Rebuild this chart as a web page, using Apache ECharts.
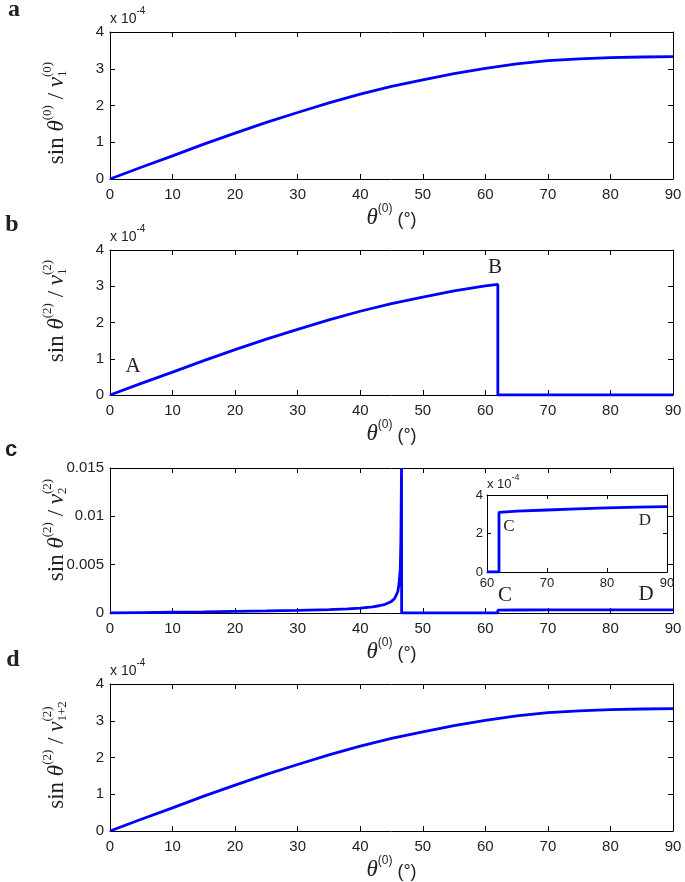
<!DOCTYPE html>
<html>
<head>
<meta charset="utf-8">
<script src="https://cdn.jsdelivr.net/npm/echarts@6/dist/echarts.min.js"></script>
<style>
html,body{margin:0;padding:0;background:#fff;}
#chart{width:685px;height:882px;}
</style>
</head>
<body>
<div id="chart"></div>
<script>
// ---------- data ----------
// panel a: sin θ(0) / v1(0), in units of 1e-4
const aAngles = [0,5,10,15,20,25,30,35,40,45,50,55,60,65,70,75,80,85,90];
const aValues = [0,0.32,0.63,0.95,1.25,1.54,1.81,2.07,2.31,2.52,2.70,2.87,3.01,3.13,3.22,3.27,3.30,3.32,3.33];
// panel b: sin θ(2) / v1(2), in units of 1e-4
const bAngles = [0,5,10,15,20,25,30,35,40,45,50,55,60,62,62,90];
const bValues = [0,0.32,0.63,0.95,1.25,1.54,1.81,2.07,2.31,2.52,2.70,2.87,3.01,3.05,0,0];
// panel c: sin θ(2) / v2(2)
const cAngles = [0,5,10,15,20,25,30,35,38,40,42,43,44,45,45.5,46,46.2,46.4,46.5,46.6,46.62,62,62,65,70,75,80,85,90];
const cValues = [0,0.00004,0.00008,0.00012,0.00017,0.00021,0.00027,0.00035,0.00043,0.0005,0.00064,0.00075,0.0009,0.0012,0.0015,0.0022,0.003,0.0045,0.0075,0.015,0,0,0.000305,0.00031,0.00032,0.000325,0.00033,0.000332,0.000333];
// inset of panel c, in units of 1e-4
const insetAngles = [60,62,62,65,70,75,80,85,90];
const insetValues = [0,0,3.1,3.16,3.22,3.28,3.33,3.37,3.4];
// panel d: sin θ(2) / v1+2(2), in units of 1e-4
const dAngles = [0,5,10,15,20,25,30,35,40,45,50,55,60,65,70,75,80,85,90];
const dValues = [0,0.32,0.63,0.95,1.25,1.54,1.81,2.07,2.31,2.52,2.70,2.87,3.01,3.13,3.22,3.27,3.30,3.32,3.33];
// tick settings
const xTicksMain = {min:0, max:90, interval:10};
const xTicksInset = {min:60, max:90, interval:10};
const yTicksE4 = {min:0, max:4, interval:1};
const yTicksC = {min:0, max:0.015, interval:0.005};
const yTicksInset = {min:0, max:4, interval:2};

// ---------- styling ----------
const SANS = '"Liberation Sans", Arial, sans-serif';
const SERIF = '"Liberation Serif", "Times New Roman", serif';
const TXT = '#222';
const BLUE = '#0000ff';

const grids = [
  {left:110, top:32,  width:563, height:147},
  {left:110, top:250, width:563, height:145},
  {left:110, top:468, width:563, height:145},
  {left:110, top:684, width:563, height:148},
  {left:487, top:495, width:180, height:77}
];

const expName = (small) => ({
  name: '{a|x 10}{b|-4}',
  nameLocation: 'end',
  nameGap: small ? 4 : 6,
  nameTextStyle: {
    align: 'left',
    rich: {
      a: {fontSize: small ? 13 : 14, fontFamily: SANS, color: TXT, verticalAlign: 'bottom', lineHeight: small ? 18 : 20},
      b: {fontSize: small ? 9 : 10, fontFamily: SANS, color: TXT, verticalAlign: 'top', lineHeight: 8}
    }
  }
});

const xName = {
  name: '{t|θ}{s|(0)}{p| (°)}',
  nameLocation: 'middle',
  nameGap: 24,
  nameTextStyle: {
    rich: {
      t: {fontSize: 23, fontFamily: SERIF, fontStyle: 'italic', color: TXT, verticalAlign: 'bottom', lineHeight: 26},
      s: {fontSize: 12, fontFamily: SANS, color: TXT, verticalAlign: 'top', lineHeight: 12},
      p: {fontSize: 18, fontFamily: SANS, color: TXT, verticalAlign: 'bottom', lineHeight: 24}
    }
  }
};

const xAxis = [], yAxis = [];
function addAxes(gi, xt, yt, opt) {
  const small = !!opt.small;
  const fs = small ? 13 : 15;
  const tl = small ? 4 : 5;
  const common = {
    gridIndex: gi, type: 'value',
    axisLine: {show: true, onZero: false, lineStyle: {color: '#000', width: 1}},
    axisTick: {show: true, inside: true, length: tl, lineStyle: {color: '#000', width: 1}},
    splitLine: {show: false}
  };
  xAxis.push(Object.assign({}, common, xt, {position: 'bottom',
    axisLabel: {color: TXT, fontSize: fs, fontFamily: SANS, margin: small ? 5 : 8}},
    opt.xName ? xName : {}));
  xAxis.push(Object.assign({}, common, xt, {position: 'top', axisLabel: {show: false}}));
  yAxis.push(Object.assign({}, common, yt, {position: 'left',
    axisLabel: {color: TXT, fontSize: fs, fontFamily: SANS, margin: small ? 4 : 6}},
    opt.exp ? expName(small) : {}));
  yAxis.push(Object.assign({}, common, yt, {position: 'right', axisLabel: {show: false}}));
}
addAxes(0, xTicksMain, yTicksE4, {xName: true, exp: true});
addAxes(1, xTicksMain, yTicksE4, {xName: true, exp: true});
addAxes(2, xTicksMain, yTicksC, {xName: true, exp: false});
addAxes(3, xTicksMain, yTicksE4, {xName: true, exp: true});
addAxes(4, xTicksInset, yTicksInset, {exp: true, small: true});

const pairs = (xs, ys) => xs.map((x, i) => [x, ys[i]]);
const mkLine = (gi, xs, ys, w) => ({
  type: 'line', xAxisIndex: 2 * gi, yAxisIndex: 2 * gi,
  data: pairs(xs, ys), showSymbol: false, symbol: 'none', clip: true,
  lineStyle: {color: BLUE, width: w}, animation: false
});

// ---------- rotated y-axis titles built from measured pieces ----------
const meas = document.createElement('canvas').getContext('2d');
function textW(t, font) { meas.font = font; return meas.measureText(t).width; }
function yTitle(cx, cy, supTheta, subV) {
  const big = 23, sm = 13;
  const fBig = `${big}px ${SERIF}`, fIt = `italic ${big}px ${SERIF}`, fSm = `${sm}px ${SERIF}`;
  const pieces = [];
  let x = 0;
  const put = (t, font, dy) => { pieces.push({t, font, x, dy}); x += textW(t, font); };
  put('sin ', fBig, 0);
  put('θ', fIt, 0);
  put(supTheta, fSm, -9);
  put(' / ', fBig, 0);
  put('v', fIt, 0);
  const sx = x;
  const w1 = textW(supTheta, fSm), w2 = textW(subV, fSm);
  pieces.push({t: supTheta, font: fSm, x: sx, dy: -9});
  pieces.push({t: subV, font: fSm, x: sx, dy: 6});
  x += Math.max(w1, w2);
  const total = x;
  return {
    type: 'group', x: cx, y: cy, rotation: Math.PI / 2,
    children: pieces.map(p => ({
      type: 'text', x: p.x - total / 2, y: p.dy,
      style: {text: p.t, font: p.font, fill: TXT, align: 'left', verticalAlign: 'middle'}
    }))
  };
}
const lbl = (x, y, t, font) => ({type: 'text', x, y, style: {text: t, font, fill: TXT, align: 'center', verticalAlign: 'middle'}});

const graphic = [
  yTitle(57, 113, '(0)', '1'),
  yTitle(57, 311, '(2)', '1'),
  yTitle(57, 530, '(2)', '2'),
  yTitle(57, 755, '(2)', '1+2'),
  lbl(14, 10, 'a', `bold 24px ${SERIF}`),
  lbl(12, 225, 'b', `bold 24px ${SERIF}`),
  lbl(11, 450, 'c', `bold 22px ${SANS}`),
  lbl(13, 660, 'd', `bold 24px ${SERIF}`),
  lbl(133, 366, 'A', `21px ${SERIF}`),
  lbl(495, 267, 'B', `21px ${SERIF}`),
  lbl(509, 527, 'C', `17px ${SERIF}`),
  lbl(645, 521, 'D', `17px ${SERIF}`),
  lbl(505, 595, 'C', `21px ${SERIF}`),
  lbl(646, 594, 'D', `21px ${SERIF}`)
];

const option = {
  backgroundColor: '#fff',
  animation: false,
  grid: grids,
  xAxis, yAxis,
  series: [
    mkLine(0, aAngles, aValues, 2.8),
    mkLine(1, bAngles, bValues, 2.8),
    mkLine(2, cAngles, cValues, 2.8),
    mkLine(3, dAngles, dValues, 2.8),
    mkLine(4, insetAngles, insetValues, 2.8)
  ],
  graphic
};
const chart = echarts.init(document.getElementById('chart'), null, {renderer: 'canvas'});
chart.setOption(option);
</script>
</body>
</html>
